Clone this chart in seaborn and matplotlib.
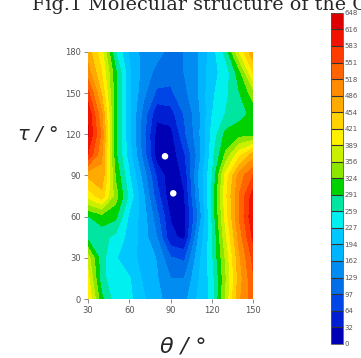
import matplotlib
matplotlib.use('Agg')
from matplotlib import pyplot as plt
from matplotlib.colors import ListedColormap, BoundaryNorm
import seaborn as sns
import numpy as np

# grid (energy in the colour-bar units)
theta = [30, 40, 50, 60, 70, 80, 90, 100, 110, 120, 130, 140, 150]
tau = [0, 15, 30, 45, 60, 75, 90, 105, 120, 135, 150, 165, 180]
energy = [
    [420, 300, 240, 235, 200, 170, 150, 150, 200, 235, 360, 480, 540],   # tau 0
    [400, 270, 235, 230, 190, 165, 130, 130, 190, 240, 350, 470, 545],   # 15
    [370, 270, 230, 205, 185, 160, 100, 90, 180, 250, 360, 480, 560],    # 30
    [280, 270, 250, 215, 180, 130, 40, 25, 160, 250, 380, 500, 590],     # 45
    [290, 310, 300, 220, 180, 110, 30, 20, 130, 260, 400, 520, 610],     # 60
    [400, 440, 340, 250, 170, 80, 10, 30, 150, 260, 410, 520, 600],      # 75
    [460, 480, 320, 230, 150, 60, 8, 40, 160, 255, 400, 500, 550],       # 90
    [580, 490, 300, 210, 120, 15, 10, 60, 140, 245, 330, 410, 470],      # 105
    [620, 510, 300, 200, 110, 20, 20, 90, 150, 235, 300, 310, 310],      # 120
    [610, 490, 300, 200, 120, 40, 50, 100, 150, 225, 260, 280, 300],     # 135
    [560, 450, 300, 200, 140, 90, 90, 120, 160, 220, 250, 290, 340],     # 150
    [500, 420, 300, 200, 150, 120, 110, 130, 160, 215, 240, 310, 420],   # 165
    [470, 400, 260, 190, 150, 140, 120, 130, 160, 210, 270, 390, 480],   # 180
]
minima_theta = [86, 92]
minima_tau = [104, 77]

level_labels = ['0', '32', '64', '97', '129', '162', '194', '227', '259', '291', '324',
                '356', '389', '421', '454', '486', '518', '551', '583', '616', '648']
level_colors = ['#0000b4', '#001ed2', '#0046e6', '#006ee6', '#008cf0', '#00b4ff',
                '#00c8ff', '#00f0f0', '#00e6a0', '#00d200', '#8ce600', '#c8f000',
                '#fff000', '#ffd200', '#ffaa00', '#ff8c00', '#ff6400', '#ff3c00',
                '#f01400', '#dc0000']

sns.set_style('white')
plt.rcParams['font.family'] = ['DejaVu Sans']
tick_font = ['Liberation Sans Narrow', 'DejaVu Sans']

levels = np.linspace(0, 648, len(level_labels))
cmap = ListedColormap(level_colors)
norm = BoundaryNorm(levels, cmap.N)

fig = plt.figure(figsize=(3.61, 3.58), dpi=100)
ax = fig.add_axes([0.2438, 0.1648, 0.457, 0.690])
cax = fig.add_axes([0.916, 0.040, 0.034, 0.924])

cs = ax.contourf(theta, tau, np.array(energy), levels=levels, cmap=cmap, norm=norm)
sns.scatterplot(x=minima_theta, y=minima_tau, ax=ax, color='white', s=22,
                edgecolor='none', zorder=5)

ax.set_xlim(30, 150)
ax.set_ylim(0, 180)
ax.set_xticks([30, 60, 90, 120, 150])
ax.set_yticks([0, 30, 60, 90, 120, 150, 180])
ax.tick_params(axis='both', direction='out', length=3, width=0.6, color='#777777',
               labelsize=6, labelcolor='#555555', pad=2, left=True, bottom=True)
for lbl in ax.get_xticklabels() + ax.get_yticklabels():
    lbl.set_family(tick_font)
for side in ['top', 'right', 'left', 'bottom']:
    ax.spines[side].set_visible(False)

cb = fig.colorbar(cs, cax=cax, drawedges=True)
cb.set_ticks(levels)
cb.set_ticklabels(level_labels)
cb.outline.set_edgecolor('#555555')
cb.outline.set_linewidth(0.6)
cb.dividers.set_color('#333333')
cb.dividers.set_linewidth(0.8)
cax.tick_params(length=0, labelsize=5, labelcolor='#555555', pad=1)
for lbl in cax.get_yticklabels():
    lbl.set_family(tick_font)

fig.text(32 / 361, 1 - 10 / 358, 'Fig.1 Molecular structure of the Compound',
         family='DejaVu Serif', fontsize=13.75, ha='left', va='baseline')
fig.text(38 / 361, 1 - 135 / 358, 'τ / °', fontsize=14, style='italic',
         ha='center', va='center')
fig.text(183 / 361, 1 - 346 / 358, 'θ / °', fontsize=16, style='italic',
         ha='center', va='center')

fig.savefig('out.png', dpi=100)
